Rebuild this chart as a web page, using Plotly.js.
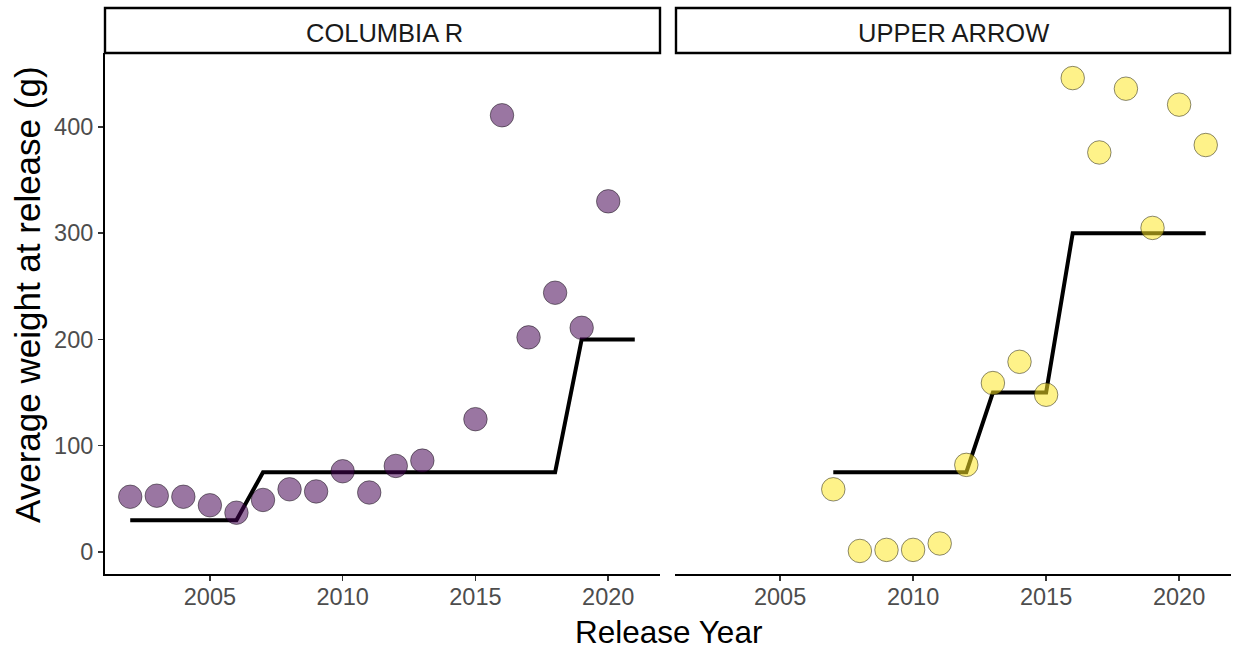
<!DOCTYPE html>
<html>
<head>
<meta charset="utf-8">
<script src="https://cdn.plot.ly/plotly-3.0.1.min.js"></script>
<style>
  html, body { margin: 0; padding: 0; background: #ffffff; }
  #chart { width: 1235px; height: 652px; }
</style>
</head>
<body>
<div id="chart"></div>
<script>
// Release years and average weights per release site
const columbiaYears   = [2002, 2003, 2004, 2005, 2006, 2007, 2008, 2009, 2010, 2011, 2012, 2013, 2015, 2016, 2017, 2018, 2019, 2020];
const columbiaWeights = [52, 53, 52, 44, 37, 49, 59, 57, 76, 56, 81, 86, 125, 411, 202, 244, 211, 330];

const arrowYears   = [2007, 2008, 2009, 2010, 2011, 2012, 2013, 2014, 2015, 2016, 2017, 2018, 2019, 2020, 2021];
const arrowWeights = [59, 1, 2, 2, 8, 82, 159, 179, 148, 446, 376, 436, 305, 421, 383];

// Target weight by year
const columbiaTargetYears = [2002, 2003, 2004, 2005, 2006, 2007, 2008, 2009, 2010, 2011, 2012, 2013, 2014, 2015, 2016, 2017, 2018, 2019, 2020, 2021];
const columbiaTarget      = [30, 30, 30, 30, 30, 75, 75, 75, 75, 75, 75, 75, 75, 75, 75, 75, 75, 200, 200, 200];

const arrowTargetYears = [2007, 2008, 2009, 2010, 2011, 2012, 2013, 2014, 2015, 2016, 2017, 2018, 2019, 2020, 2021];
const arrowTarget      = [75, 75, 75, 75, 75, 75, 150, 150, 150, 300, 300, 300, 300, 300, 300];

const panelNames = ["COLUMBIA R", "UPPER ARROW"];
const xTicks = [2005, 2010, 2015, 2020];
const yTicks = [0, 100, 200, 300, 400];

const FONT = "Liberation Sans, Arial, sans-serif";
const purple = "rgba(68,1,84,0.54)";
const yellow = "rgba(253,231,37,0.54)";
const edge = "rgba(0,0,0,0.45)";

const traces = [
  { x: columbiaTargetYears, y: columbiaTarget, xaxis: "x", yaxis: "y", mode: "lines",
    line: { color: "#000000", width: 4 }, hoverinfo: "skip" },
  { x: columbiaYears, y: columbiaWeights, xaxis: "x", yaxis: "y", mode: "markers",
    marker: { size: 23.5, color: purple, line: { color: edge, width: 1 } } },
  { x: arrowTargetYears, y: arrowTarget, xaxis: "x2", yaxis: "y2", mode: "lines",
    line: { color: "#000000", width: 4 }, hoverinfo: "skip" },
  { x: arrowYears, y: arrowWeights, xaxis: "x2", yaxis: "y2", mode: "markers",
    marker: { size: 23.5, color: yellow, line: { color: edge, width: 1 } } }
];

// Plot area geometry (pixels)
const W = 1235, H = 652;
const M = { l: 105, r: 4, t: 53, b: 78 };
const plotW = W - M.l - M.r;   // 1126
const plotH = H - M.t - M.b;   // 521
const px = v => (v - M.l) / plotW;          // page x -> paper x
const py = v => (H - M.b - v) / plotH;      // page y -> paper y

const xRange = [2001.05, 2021.95];
const yRange = [-20.7, 469.6];

const tickFont = { family: FONT, size: 23.5, color: "#4d4d4d" };

const xAxisBase = {
  range: xRange, tickvals: xTicks, ticktext: xTicks.map(String),
  showgrid: false, zeroline: false, showline: true, linecolor: "#000000", linewidth: 2,
  ticks: "outside", ticklen: 5, tickwidth: 1.5, tickcolor: "#333333",
  tickfont: tickFont, ticklabelstandoff: -4, fixedrange: true
};

const layout = {
  width: W, height: H,
  margin: M,
  paper_bgcolor: "#ffffff", plot_bgcolor: "#ffffff",
  showlegend: false,
  font: { family: FONT },
  xaxis: Object.assign({}, xAxisBase, { domain: [0, px(660)], anchor: "y" }),
  xaxis2: Object.assign({}, xAxisBase, { domain: [px(675), 1], anchor: "y2" }),
  yaxis: {
    domain: [0, 1], range: yRange, tickvals: yTicks, ticktext: yTicks.map(String),
    showgrid: false, zeroline: false, showline: true, linecolor: "#000000", linewidth: 2,
    ticks: "outside", ticklen: 5, tickwidth: 1.5, tickcolor: "#333333",
    tickfont: tickFont, fixedrange: true
  },
  yaxis2: {
    domain: [0, 1], range: yRange, anchor: "x2",
    showgrid: false, zeroline: false, showline: false, showticklabels: false, ticks: "", fixedrange: true
  },
  shapes: [
    { type: "rect", xref: "paper", yref: "paper", x0: px(105), x1: px(660), y0: py(53), y1: py(8),
      line: { color: "#000000", width: 2.4 }, fillcolor: "rgba(0,0,0,0)" },
    { type: "rect", xref: "paper", yref: "paper", x0: px(676), x1: px(1230), y0: py(53), y1: py(8),
      line: { color: "#000000", width: 2.4 }, fillcolor: "rgba(0,0,0,0)" }
  ],
  annotations: [
    { text: panelNames[0], xref: "paper", yref: "paper", x: px(384), y: py(33),
      showarrow: false, font: { family: FONT, size: 25.5, color: "#1a1a1a" }, xanchor: "center", yanchor: "middle" },
    { text: panelNames[1], xref: "paper", yref: "paper", x: px(953), y: py(33),
      showarrow: false, font: { family: FONT, size: 25.5, color: "#1a1a1a" }, xanchor: "center", yanchor: "middle" },
    { text: "Release Year", xref: "paper", yref: "paper", x: px(668), y: py(632),
      showarrow: false, font: { family: FONT, size: 31.5, color: "#000000" }, xanchor: "center", yanchor: "middle" },
    { text: "Average weight at release (g)", xref: "paper", yref: "paper", x: px(27), y: py(295),
      textangle: -90, showarrow: false, font: { family: FONT, size: 35, color: "#000000" }, xanchor: "center", yanchor: "middle" }
  ]
};

Plotly.newPlot("chart", traces, layout, { staticPlot: true, displayModeBar: false });
</script>
</body>
</html>
